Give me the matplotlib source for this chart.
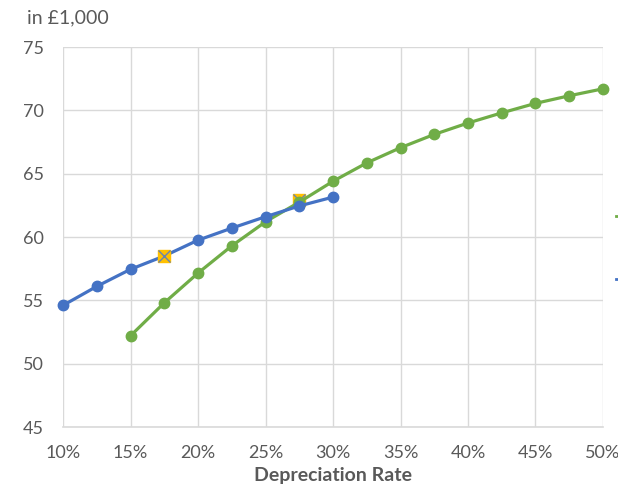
import matplotlib.pyplot as plt
from matplotlib.lines import Line2D

# Depreciation rates (%) and values in £1,000
rates_blue = [10, 12.5, 15, 17.5, 20, 22.5, 25, 27.5, 30]
values_blue = [54.6, 56.1, 57.45, 58.5, 59.75, 60.7, 61.6, 62.45, 63.15]

rates_green = [15, 17.5, 20, 22.5, 25, 27.5, 30, 32.5, 35, 37.5, 40, 42.5, 45, 47.5, 50]
values_green = [52.2, 54.8, 57.15, 59.3, 61.2, 62.75, 64.4, 65.85, 67.05, 68.1, 69.0,
                69.8, 70.55, 71.15, 71.7]

rates_marked = [17.5, 27.5]
values_marked = [58.5, 62.9]

x_ticks = [10, 15, 20, 25, 30, 35, 40, 45, 50]
y_ticks = [45, 50, 55, 60, 65, 70, 75]

BLUE = "#4472C4"
GREEN = "#70AD47"
GOLD = "#FFC000"
GRID = "#D9D9D9"
TEXT = "#595959"

plt.rcParams["font.family"] = ["Lato", "DejaVu Sans"]

fig = plt.figure(figsize=(6.18, 4.92), dpi=100)
ax = fig.add_axes([63 / 618, 1 - 427 / 492, 540 / 618, 380 / 492])

ax.set_xlim(10, 50)
ax.set_ylim(45, 75)
ax.set_xticks(x_ticks)
ax.set_yticks(y_ticks)
ax.set_xticklabels([f"{t}%" for t in x_ticks])
ax.grid(True, color=GRID, linewidth=1.0)
ax.set_axisbelow(True)
for side in ["top", "right", "left"]:
    ax.spines[side].set_visible(False)
ax.spines["bottom"].set_color(GRID)
ax.spines["bottom"].set_linewidth(1.2)
ax.tick_params(axis="both", length=0, labelsize=13, colors=TEXT)
ax.tick_params(axis="y", pad=14)
ax.tick_params(axis="x", pad=13)

# highlighted points: the first sits over the blue line, the second under the green one
for (r, v), z in zip(zip(rates_marked, values_marked), [5, 3.5]):
    ax.plot([r], [v], linestyle="none", marker="s", markersize=9,
            markerfacecolor=GOLD, markeredgecolor=GOLD, zorder=z, clip_on=False)
    ax.plot([r], [v], linestyle="none", marker="x", markersize=8,
            markeredgecolor="#6B84AC", markeredgewidth=1.0, zorder=z + 0.05,
            clip_on=False)

ax.plot(rates_green, values_green, color=GREEN, linewidth=2.3, marker="o",
        markersize=7.5, zorder=3.7, clip_on=False)
ax.plot(rates_blue, values_blue, color=BLUE, linewidth=2.3, marker="o",
        markersize=7.5, zorder=4, clip_on=False)

ax.set_xlabel("Depreciation Rate", fontsize=14, fontweight="bold", color=TEXT,
              labelpad=4)

fig.text(27 / 618, 1 - 18 / 492, "in £1,000", fontsize=14, color=TEXT,
         ha="left", va="center")

# legend handles running off the right edge
for y_px, col in [(216, GREEN), (279, BLUE)]:
    fig.add_artist(Line2D([616 / 618, 625 / 618], [1 - y_px / 492] * 2,
                          transform=fig.transFigure, color=col, linewidth=2.0))

fig.savefig("out.png", dpi=100)
